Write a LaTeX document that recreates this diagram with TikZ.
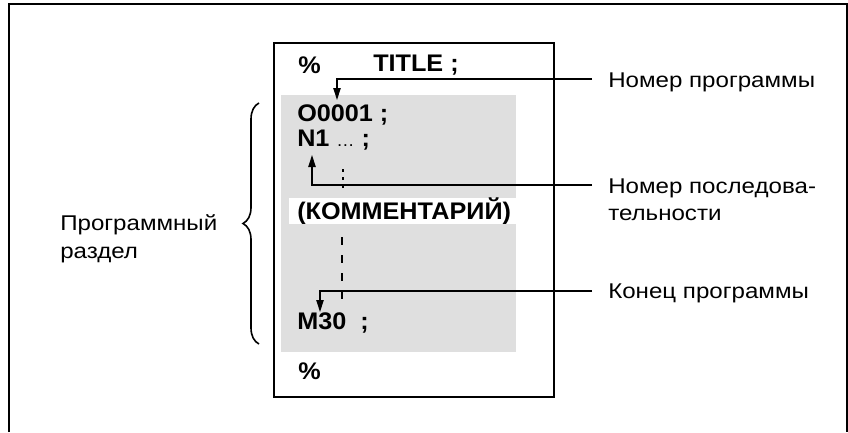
\documentclass[tikz,border=0pt]{standalone}
\usepackage{fontspec}
\setmainfont{Liberation Sans}
\newfontfamily\lblfont[FakeStretch=1.13]{Liberation Sans}
\newfontfamily\codefont[FakeStretch=1.05]{Liberation Sans}
\usetikzlibrary{arrows.meta,positioning,decorations.pathreplacing}
\tikzset{
  code/.style={font=\codefont\fontsize{18}{21}\selectfont\bfseries, anchor=west, inner sep=0pt},
  lbl/.style={font=\lblfont\fontsize{16}{20}\selectfont, anchor=west, align=left, inner sep=0pt},
  ptr/.style={-{Triangle[length=9pt,width=5.5pt]}, line width=1pt},
  dots/.style={line width=1.5pt, dash pattern=on 6pt off 7.5pt},
  sheet/.style={line width=1.5pt},
}

\begin{document}
\begin{tikzpicture}[x=0.75pt,y=-0.75pt]
\useasboundingbox (0,0) rectangle (848,432);
% frame and program sheet
\draw[sheet] (9,432) -- (9,4) -- (847,4) -- (847,432);
\draw[sheet] (274,43) rectangle (554,397);
\fill[gray!25] (281,95) rectangle (516,352);
% program text
\node[code] (pcttop) at (298,65) {\%};
\node[code] (title) at (373,65) {TITLE ;};
\node[code] (onum) at (297,115) {O0001 ;};
\node[code] (nnum) at (297,140) {N1 {\mdseries\fontsize{13}{15}\selectfont\ldots} ;};
\node[code, fill=white, inner xsep=6pt, minimum height=18pt] (cmt) at (289,211) {(КОММЕНТАРИЙ)};
\node[code] (mend) at (297,323) {M30\ \ ;};
\node[code] (pctbot) at (298,371) {\%};
\draw[dots, dash pattern=on 2.5pt off 3.5pt] (343,169) -- (343,188);
\draw[dots] (342,237) -- (342,301);
% labels on the right
\node[lbl] (lprog) at (608,82) {Номер программы};
\node[lbl] (lseq) at (608,200) {Номер последова-\\тельности};
\node[lbl] (lend) at (608,293) {Конец программы};
\coordinate (e1) at (592,79);  \coordinate (t1) at (337,100);
\coordinate (e2) at (592,185); \coordinate (t2) at (312,155);
\coordinate (e3) at (592,291); \coordinate (t3) at (320,312);
\draw[ptr] (e1) -| (t1);
\draw[ptr] (e2) -| (t2);
\draw[ptr] (e3) -| (t3);
% program section
\node[lbl, font=\lblfont\fontsize{16}{21}\selectfont] (lsect) at (60,239) {Программный\\раздел};
\coordinate (b1) at (259,344); \coordinate (b2) at (259,103);
\draw[decorate, decoration={brace, amplitude=12pt}, line width=1.2pt] (b1) -- (b2);
\end{tikzpicture}
\end{document}
